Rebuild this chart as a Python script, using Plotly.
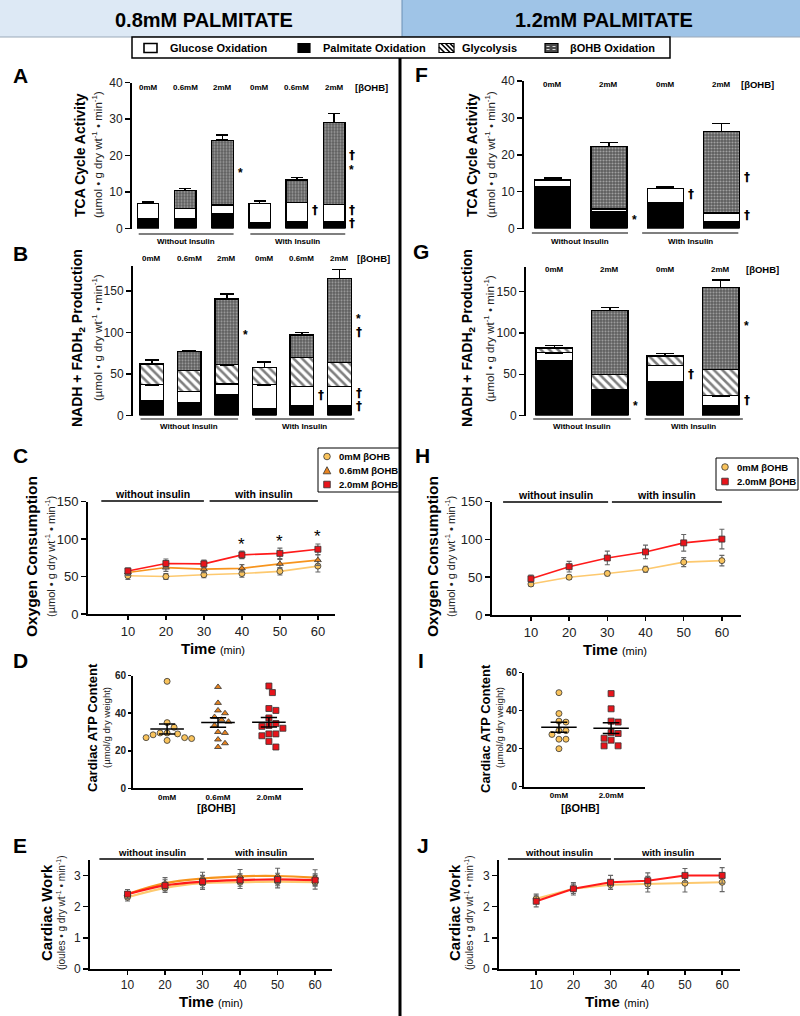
import numpy as np
import plotly.graph_objects as go

W, H = 800, 1016
FONT = "Arial, 'Liberation Sans', Helvetica, sans-serif"


def px(x):
    return x / W


def py(y):
    return 1 - y / H


# ---------------------------------------------------------------- data
conc_08 = ["0mM", "0.6mM", "2mM", "0mM", "0.6mM", "2mM"]
conc_12 = ["0mM", "2mM", "0mM", "2mM"]
insulin_groups = ["Without Insulin", "With Insulin"]
component_names = ["Glucose Oxidation", "Palmitate Oxidation", "Glycolysis", "\u03b2OHB Oxidation"]

# Panel A  TCA cycle activity, 0.8 mM palmitate
A_palm = [2.8, 2.6, 4.2, 1.5, 1.8, 1.8]
A_palm_err = [0.7, 0.8, 0.9, 0.3, 0.8, 0.8]
A_gluc = [4.0, 2.9, 2.2, 5.4, 5.4, 4.8]
A_gluc_err = [0.5, 0.5, 0.6, 0.6, 0.4, 0.4]
A_bohb = [None, 4.9, 17.8, None, 6.1, 22.4]
A_bohb_err = [None, 0.5, 1.4, None, 0.7, 2.5]

# Panel B  NADH + FADH2 production, 0.8 mM palmitate
B_palm = [17.5, 15.0, 25.0, 8.5, 11.5, 11.5]
B_palm_err = [3.3, 3.8, 5.8, 2.2, 2.1, 2.1]
B_gluc = [19.5, 14.0, 13.0, 28.5, 23.5, 23.5]
B_gluc_err = [1.5, 1.5, 2.0, 1.5, 1.5, 1.5]
B_glyc = [25.0, 25.0, 23.0, 21.0, 35.0, 29.0]
B_glyc_err = [5.0, 1.5, 4.0, 6.5, 2.0, 2.0]
B_bohb = [None, 23.0, 79.0, None, 27.0, 101.0]
B_bohb_err = [None, 1.5, 6.0, None, 3.0, 10.5]

# Panel F  TCA cycle activity, 1.2 mM palmitate
F_palm = [11.4, 4.6, 7.0, 2.0]
F_palm_err = [0.5, 1.0, 1.2, 0.6]
F_gluc = [1.8, 0.7, 3.9, 2.2]
F_gluc_err = [0.5, 0.3, 0.4, 0.4]
F_bohb = [None, 17.0, None, 22.1]
F_bohb_err = [None, 1.1, None, 2.2]

# Panel G  NADH + FADH2 production, 1.2 mM palmitate
G_palm = [67.0, 29.0, 41.0, 11.6]
G_palm_err = [8.0, 2.0, 6.0, 4.0]
G_gluc = [9.0, 2.0, 20.0, 12.4]
G_gluc_err = [2.0, 1.0, 1.5, 2.0]
G_glyc = [6.0, 19.0, 11.0, 32.0]
G_glyc_err = [3.0, 3.0, 3.0, 11.0]
G_bohb = [None, 77.0, None, 99.0]
G_bohb_err = [None, 4.0, None, 9.0]

# Oxygen consumption (C: 0.8 mM, H: 1.2 mM)
time_min = [10, 20, 30, 40, 50, 60]
C_0 = [51, 50, 52.5, 54, 57, 64]
C_0_err = [5, 4, 4, 5, 5, 8]
C_06 = [55.5, 62, 60, 61, 67, 72]
C_06_err = [4, 5, 5, 5, 6, 7]
C_2 = [57.5, 67.5, 67, 79, 81, 86.5]
C_2_err = [4, 6, 5, 5, 7, 7]
H_0 = [41, 50, 55, 60.5, 70, 72]
H_0_err = [3, 3, 3, 4, 6, 7]
H_2 = [48, 64, 75.5, 83.5, 95.5, 100.5]
H_2_err = [5, 7, 9, 9, 11, 13]

# Cardiac ATP content (D: 0.8 mM, I: 1.2 mM)
atp_groups_08 = ["0mM", "0.6mM", "2.0mM"]
atp_groups_12 = ["0mM", "2.0mM"]
D_0 = [57, 35, 32.5, 29.5, 29.5, 29, 28.5, 27, 27, 26.5, 25.5]
D_06 = [54, 45.5, 41.5, 40, 38, 36.5, 35.5, 33.5, 30, 29.5, 26, 24, 22]
D_2 = [54.5, 51, 42.5, 41.5, 37.5, 34.5, 33.5, 33, 32, 29, 29, 28, 25, 22]
I_0 = [49.5, 38.5, 34.5, 34, 29.5, 29.5, 27.5, 25, 25, 20]
I_2 = [49, 41, 34.5, 34, 28.5, 28, 25.5, 24.5, 21.5, 21.5]

# Cardiac work (E: 0.8 mM, J: 1.2 mM)
E_0 = [2.30, 2.60, 2.75, 2.78, 2.80, 2.78]
E_0_err = [0.12, 0.15, 0.20, 0.20, 0.20, 0.22]
E_06 = [2.40, 2.75, 2.90, 2.97, 2.98, 2.93]
E_06_err = [0.15, 0.18, 0.20, 0.22, 0.25, 0.25]
E_2 = [2.40, 2.68, 2.80, 2.85, 2.87, 2.85]
E_2_err = [0.15, 0.18, 0.20, 0.20, 0.20, 0.20]
J_0 = [2.25, 2.57, 2.70, 2.72, 2.75, 2.78]
J_0_err = [0.15, 0.15, 0.15, 0.25, 0.28, 0.30]
J_2 = [2.17, 2.57, 2.78, 2.83, 3.00, 3.00]
J_2_err = [0.18, 0.20, 0.22, 0.25, 0.22, 0.25]

series_names = ["0mM \u03b2OHB", "0.6mM \u03b2OHB", "2.0mM \u03b2OHB"]

# ---------------------------------------------------------------- styles
YEL_FILL, YEL_LINE = "#f9c35c", "#fdc96f"
ORG_FILL, ORG_LINE = "#e8831f", "#f7941d"
RED_FILL, RED_LINE = "#e8141b", "#ff1a1a"
BOHB_BG = "#5c5c5c"

STY = {
    "palm": dict(name=component_names[1], color="black", pattern=None),
    "gluc": dict(name=component_names[0], color="white", pattern=None),
    "glyc": dict(name=component_names[2], color="white",
                 pattern=dict(shape="\\", fgcolor="black", bgcolor="white", size=6, solidity=0.42)),
    "bohb": dict(name=component_names[3], color=BOHB_BG,
                 pattern=dict(shape=".", fgcolor="#e4e4e4", bgcolor=BOHB_BG, size=3, solidity=0.4)),
}

# axis geometry in pixels: (x0, x1), (ytop, ybottom)
GEOM = {
    1: ((132, 362), (82.5, 228.5)),    # A
    2: ((133, 362), (265.8, 415.6)),   # B
    3: ((88, 335), (501.7, 614)),      # C
    4: ((133, 303), (675.7, 788.3)),   # D
    5: ((90, 332), (859.8, 969)),      # E
    6: ((524, 785), (81, 228.6)),      # F
    7: ((526, 785), (266.9, 415.6)),   # G
    8: ((492, 741), (501.7, 615)),     # H
    9: ((524, 645), (672.7, 786.7)),   # I
    10: ((499, 740), (859.8, 969)),    # J
}


def refs(i):
    return ("x", "y") if i == 1 else (f"x{i}", f"y{i}")


fig = go.Figure()


def add_stack(ax, comps, width, cap):
    xr, yr = refs(ax)
    for key, vals, errs in comps:
        st = STY[key]
        n = len(vals)
        marker = dict(color=st["color"], line=dict(color="black", width=1.3))
        if st["pattern"]:
            marker["pattern"] = st["pattern"]
        fig.add_trace(go.Bar(
            x=list(range(n)), y=vals, width=width, xaxis=xr, yaxis=yr,
            marker=marker, name=st["name"], showlegend=False,
            error_y=dict(type="data", array=errs, arrayminus=[0] * n, symmetric=False,
                         color="black", thickness=1.5, width=cap),
        ))


add_stack(1, [("palm", A_palm, A_palm_err), ("gluc", A_gluc, A_gluc_err),
              ("bohb", A_bohb, A_bohb_err)], 0.58, 6)
add_stack(2, [("palm", B_palm, B_palm_err), ("gluc", B_gluc, B_gluc_err),
              ("glyc", B_glyc, B_glyc_err), ("bohb", B_bohb, B_bohb_err)], 0.63, 7)
add_stack(6, [("palm", F_palm, F_palm_err), ("gluc", F_gluc, F_gluc_err),
              ("bohb", F_bohb, F_bohb_err)], 0.64, 9)
add_stack(7, [("palm", G_palm, G_palm_err), ("gluc", G_gluc, G_gluc_err),
              ("glyc", G_glyc, G_glyc_err), ("bohb", G_bohb, G_bohb_err)], 0.66, 9)


# ---- line panels
def add_line(ax, y, err, fill, line, symbol, lw=1.6, shape="linear", msize=6):
    xr, yr = refs(ax)
    fig.add_trace(go.Scatter(
        x=time_min, y=y, xaxis=xr, yaxis=yr, mode="lines+markers", showlegend=False,
        line=dict(color=line, width=lw, shape=shape),
        marker=dict(color=fill, symbol=symbol, size=msize, line=dict(color="#333", width=0.8)),
        error_y=dict(type="data", array=err, color="#666", thickness=1.1, width=2.5),
    ))


add_line(3, C_0, C_0_err, YEL_FILL, YEL_LINE, "circle")
add_line(3, C_06, C_06_err, ORG_FILL, ORG_LINE, "triangle-up")
add_line(3, C_2, C_2_err, RED_FILL, RED_LINE, "square")
add_line(8, H_0, H_0_err, YEL_FILL, YEL_LINE, "circle")
add_line(8, H_2, H_2_err, RED_FILL, RED_LINE, "square")
add_line(5, E_0, E_0_err, YEL_FILL, YEL_LINE, "circle", 2.2, "spline")
add_line(5, E_06, E_06_err, ORG_FILL, ORG_LINE, "triangle-up", 2.2, "spline")
add_line(5, E_2, E_2_err, RED_FILL, RED_LINE, "square", 2.2, "spline")
add_line(10, J_0, J_0_err, YEL_FILL, YEL_LINE, "circle", 2.0)
add_line(10, J_2, J_2_err, RED_FILL, RED_LINE, "square", 2.0)


# ---- scatter (dot) panels
def swarm(values, ax, yrng, xrng, step=7.0):
    (x0, x1), (yt, yb) = GEOM[ax]
    xppu = (x1 - x0) / (xrng[1] - xrng[0])
    yppu = (yb - yt) / (yrng[1] - yrng[0])
    placed, offs = [], [0.0] * len(values)
    for i in np.argsort(values)[::-1]:
        ypx = values[i] * yppu
        cands = [0.0]
        for m in range(1, 8):
            cands += [m * step / 2, -m * step / 2]
        for c in cands:
            if all((c - ox) ** 2 + (ypx - oy) ** 2 >= step ** 2 for ox, oy in placed):
                placed.append((c, ypx))
                offs[i] = c / xppu
                break
    return offs


def add_dots(ax, data, fills, symbols, xrng, mean_hw, cap_hw):
    xr, yr = refs(ax)
    for gi, (vals, fillc, sym) in enumerate(zip(data, fills, symbols)):
        offs = swarm(vals, ax, (0, 60), xrng)
        fig.add_trace(go.Scatter(
            x=[gi + o for o in offs], y=vals, mode="markers", xaxis=xr, yaxis=yr, showlegend=False,
            marker=dict(color=fillc, symbol=sym, size=6, line=dict(color="#333", width=0.8))))
    for gi, vals in enumerate(data):
        m = float(np.mean(vals))
        s = float(np.std(vals, ddof=1) / np.sqrt(len(vals)))
        fig.add_trace(go.Scatter(
            x=[gi - mean_hw, gi + mean_hw, None, gi, gi, None, gi - cap_hw, gi + cap_hw, None, gi - cap_hw, gi + cap_hw],
            y=[m, m, None, m - s, m + s, None, m + s, m + s, None, m - s, m - s],
            mode="lines", xaxis=xr, yaxis=yr, showlegend=False, line=dict(color="black", width=1.5)))


add_dots(4, [D_0, D_06, D_2], [YEL_FILL, ORG_FILL, RED_FILL],
         ["circle", "triangle-up", "square"], (-0.67, 2.67), 0.33, 0.16)
add_dots(9, [I_0, I_2], [YEL_FILL, RED_FILL], ["circle", "square"], (-0.67, 1.65), 0.34, 0.16)

# ---------------------------------------------------------------- axes
layout = dict(width=W, height=H, margin=dict(l=0, r=0, t=0, b=0, autoexpand=False),
              paper_bgcolor="white", plot_bgcolor="white", barmode="stack", showlegend=False,
              font=dict(family=FONT, color="black"), bargap=0)


def set_axes(i, xr, yr, yticks, ytick_size, xkw=None, ybold=False, ticklen=5):
    (x0, x1), (yt, yb) = GEOM[i]
    xa = dict(domain=[px(x0), px(x1)], range=xr, anchor="y" if i == 1 else f"y{i}",
              showgrid=False, zeroline=False, fixedrange=True, automargin=False)
    if xkw:
        xa.update(xkw)
    else:
        xa.update(visible=False)
    ya = dict(domain=[py(yb), py(yt)], range=yr, anchor="x" if i == 1 else f"x{i}",
              tickvals=yticks, showline=True, linecolor="black", linewidth=2, ticks="outside",
              ticklen=ticklen, tickwidth=1.5, tickcolor="black", showgrid=False, zeroline=False,
              fixedrange=True, automargin=False,
              tickfont=dict(family=FONT, size=ytick_size, color="#222", weight="bold" if ybold else "normal"))
    layout["xaxis" if i == 1 else f"xaxis{i}"] = xa
    layout["yaxis" if i == 1 else f"yaxis{i}"] = ya


line_x = dict(visible=True, showline=True, linecolor="black", linewidth=2, ticks="outside", ticklen=4,
              tickwidth=1.5, tickcolor="black", tickvals=time_min,
              tickfont=dict(family=FONT, size=13, color="#222"))
line_x_small = dict(line_x, tickfont=dict(family=FONT, size=12, color="#222"))

set_axes(1, [-0.43, 5.75], [0, 40], [0, 10, 20, 30, 40], 12)
set_axes(2, [-0.5, 5.6], [0, 180], [0, 50, 100, 150], 12)
set_axes(6, [-0.51, 4.13], [0, 40], [0, 10, 20, 30, 40], 12)
set_axes(7, [-0.51, 4.16], [0, 180], [0, 50, 100, 150], 12)
set_axes(3, [-0.5, 64.5], [0, 150], [0, 50, 100, 150], 13, line_x)
set_axes(8, [-0.2, 65], [0, 150], [0, 50, 100, 150], 13, line_x)
set_axes(5, [0, 64.5], [0, 3.5], [0, 1, 2, 3], 12, line_x_small)
set_axes(10, [0, 64.8], [0, 3.5], [0, 1, 2, 3], 12, line_x_small)


def cat_x(labels):
    return dict(visible=True, showline=True, linecolor="black", linewidth=2, ticks="",
                tickvals=list(range(len(labels))), ticktext=labels,
                tickfont=dict(family=FONT, size=8, color="black", weight="bold"))


set_axes(4, [-0.67, 2.67], [0, 60], [0, 20, 40, 60], 10, cat_x(atp_groups_08), ybold=True, ticklen=3)
set_axes(9, [-0.67, 1.65], [0, 60], [0, 20, 40, 60], 10, cat_x(atp_groups_12), ybold=True, ticklen=3)

# ---------------------------------------------------------------- decorations
shapes = []
annots = []


def T(text, x, y, size, bold=False, angle=0, xanchor="center", yanchor="middle", xref="paper", yref="paper",
      color="black", family=FONT):
    annots.append(dict(text=text, x=x if xref != "paper" else px(x), y=y if yref != "paper" else py(y),
                       xref=xref, yref=yref, showarrow=False, textangle=angle, xanchor=xanchor,
                       yanchor=yanchor, font=dict(family=family, size=size, color=color,
                                                  weight="bold" if bold else "normal")))


def line_px(x0, y0, x1, y1, width=1.2, color="black", dash="solid"):
    shapes.append(dict(type="line", xref="paper", yref="paper", x0=px(x0), x1=px(x1), y0=py(y0), y1=py(y1),
                       line=dict(color=color, width=width, dash=dash)))


def rect_px(x0, y0, x1, y1, fill, line_color="black", lw=1.0, layer="above"):
    shapes.append(dict(type="rect", xref="paper", yref="paper", x0=px(x0), x1=px(x1), y0=py(y1), y1=py(y0),
                       fillcolor=fill, line=dict(color=line_color, width=lw), layer=layer))


# header
rect_px(0, 0, 402, 37, "#dde9f5", "#dde9f5", 0, "below")
rect_px(402, 0, 800, 37, "#9fc4e7", "#9fc4e7", 0, "below")
line_px(402, 0, 402, 37, 1, "#6a8fb5")
line_px(0, 37, 800, 37, 1, "#9aa9b8")
T("0.8mM PALMITATE", 204, 20, 20, True)
T("1.2mM PALMITATE", 604, 20, 20, True)
# vertical divider
line_px(400, 37, 400, 1016, 3, "black")

# top legend (drawn manually)
rect_px(132, 37, 670, 58, "white", "black", 1.5)
rect_px(144, 43.5, 157, 52.5, "white", "black", 1.6)
rect_px(298, 43.5, 310, 52.5, "black", "black", 1.2)
rect_px(439, 43.5, 454, 52.5, "white", "black", 1.2)
for a, b, c, d in [(439, 47, 444.5, 52.5), (441, 43.5, 450, 52.5), (445.5, 43.5, 454, 52), (450, 43.5, 454, 47.5)]:
    line_px(a, b, c, d, 1.6, "black")
rect_px(545, 43.5, 558, 52.5, "#4a4a4a", "black", 1.2)
line_px(546.5, 46.5, 556.5, 46.5, 1, "#dddddd", "dot")
line_px(546.5, 49.5, 556.5, 49.5, 1, "#dddddd", "dot")
for nm, xl in zip(component_names, [168, 321, 460, 568]):
    T(nm, xl, 48, 11, True, xanchor="left")


# manual legends for the oxygen-consumption panels
def marker_shape(kind, cx, cy, fill, r=3.3):
    if kind == "circle":
        shapes.append(dict(type="circle", xref="paper", yref="paper", x0=px(cx - r), x1=px(cx + r),
                           y0=py(cy + r), y1=py(cy - r), fillcolor=fill, line=dict(color="#333", width=0.8)))
    elif kind == "square":
        rect_px(cx - r, cy - r, cx + r, cy + r, fill, "#333", 0.8)
    else:
        path = "M{},{} L{},{} L{},{} Z".format(px(cx - r - 0.5), py(cy + r), px(cx + r + 0.5), py(cy + r),
                                              px(cx), py(cy - r - 0.5))
        shapes.append(dict(type="path", xref="paper", yref="paper", path=path, fillcolor=fill,
                           line=dict(color="#333", width=0.8)))


def manual_legend(box, rows, mx, tx, names, kinds, fills):
    rect_px(*box, "white", "black", 1)
    for yy, nm, kd, fc in zip(rows, names, kinds, fills):
        marker_shape(kd, mx, yy, fc)
        T(nm, tx, yy, 9.5, True, xanchor="left")


manual_legend((318, 448, 399, 492), [456.5, 470.5, 484.5], 327, 337, series_names,
              ["circle", "triangle", "square"], [YEL_FILL, ORG_FILL, RED_FILL])
manual_legend((716, 458, 798, 490), [467, 481.5], 725, 735, [series_names[0], series_names[2]],
              ["circle", "square"], [YEL_FILL, RED_FILL])

# panel letters
for L, x, y in [("A", 20, 76), ("B", 20, 253), ("C", 20, 455), ("D", 20, 660), ("E", 20, 845),
                ("F", 421, 75), ("G", 421, 251), ("H", 422, 455), ("I", 421, 660), ("J", 423, 845)]:
    T(L, x, y, 21, True)

SUB = "(\u00b5mol \u2022 g dry wt<sup>-1</sup> \u2022 min<sup>-1</sup>)"
SUBW = "(joules \u2022 g dry wt<sup>-1</sup> \u2022 min<sup>-1</sup>)"
# y titles
for ttl, sub, xt, xs, yc, st, ss in [
    ("TCA Cycle Activity", SUB, 80, 97, 155, 14, 11.5),
    ("NADH + FADH<sub>2</sub> Production", SUB, 78, 97, 338, 14, 11.5),
    ("Oxygen Consumption", SUB, 31, 50, 557, 15.5, 11),
    ("Cardiac ATP Content", "(\u00b5mol/g dry weight)", 92, 106, 728, 13, 9.5),
    ("Cardiac Work", SUBW, 46, 61, 913, 15, 10),
    ("TCA Cycle Activity", SUB, 472, 490, 155, 14, 11.5),
    ("NADH + FADH<sub>2</sub> Production", SUB, 468, 489, 338, 14, 11.5),
    ("Oxygen Consumption", SUB, 432, 450, 557, 15.5, 11),
    ("Cardiac ATP Content", "(\u00b5mol/g dry weight)", 485, 499, 728, 13, 9.5),
    ("Cardiac Work", SUBW, 454, 469, 913, 15, 10),
]:
    T(ttl, xt, yc, st, True, angle=-90)
    T(sub, xs, yc, ss, False, angle=-90, color="#222")

# Time labels
TIME = "<b>Time</b> <span style='font-size:11px'>(min)</span>"
for x, y in [(213, 648), (211, 1001), (615, 649), (617, 1001)]:
    T(TIME, x, y, 15)

# [bOHB] headers over bar panels
for ax, labels, yhdr, xlab in [(1, conc_08, 88, 371), (2, conc_08, 258, 373), (6, conc_12, 85, 757),
                               (7, conc_12, 269, 762)]:
    xr, _ = refs(ax)
    for i, lab in enumerate(labels):
        T(lab, i, yhdr, 8, True, xref=xr)
    T("[\u03b2OHB]", xlab, yhdr, 9.5, True)

# insulin group lines under bar panels
for ax, spans, yl, yt in [(1, [(-0.25, 2.3), (2.75, 5.3)], 234, 241),
                          (2, [(-0.3, 2.3), (2.75, 5.4)], 419, 427),
                          (6, [(-0.37, 1.34), (1.59, 3.3)], 233, 241),
                          (7, [(-0.38, 1.38), (1.63, 3.4)], 419, 427)]:
    xr, _ = refs(ax)
    for (a, b), lab in zip(spans, insulin_groups):
        shapes.append(dict(type="line", xref=xr, yref="paper", x0=a, x1=b, y0=py(yl), y1=py(yl),
                           line=dict(color="black", width=1.2)))
        T(lab, (a + b) / 2, yt, 8, True, xref=xr)

# insulin lines above line panels
for ax, spans, yl, yt, fs in [(3, [(3, 30), (31.5, 60)], 501, 494, 10.5),
                              (8, [(2.7, 30.2), (31.2, 60)], 502, 495, 10.5),
                              (5, [(2.5, 30.3), (31.2, 59.7)], 859, 852, 9.5),
                              (10, [(2.4, 30.1), (30.9, 59.7)], 859, 852, 9.5)]:
    xr, _ = refs(ax)
    for (a, b), lab in zip(spans, ["without insulin", "with insulin"]):
        shapes.append(dict(type="line", xref=xr, yref="paper", x0=a, x1=b, y0=py(yl), y1=py(yl),
                           line=dict(color="black", width=1.5)))
        T(lab, (a + b) / 2, yt, fs, True, xref=xr)

# significance marks on bars (bar index, value)
for ax, marks, off in [
    (1, [(2, 15.1, "*"), (4, 5.1, "\u2020"), (5, 20.1, "\u2020"), (5, 16.0, "*"), (5, 5.1, "\u2020"),
         (5, 1.4, "\u2020")], 0.36),
    (2, [(2, 97, "*"), (4, 25, "\u2020"), (5, 116, "*"), (5, 101, "\u2020"), (5, 27, "\u2020"),
         (5, 11.5, "\u2020")], 0.38),
    (6, [(1, 2.3, "*"), (2, 9.3, "\u2020"), (3, 14, "\u2020"), (3, 3.7, "\u2020")], 0.37),
    (7, [(1, 12, "*"), (2, 50, "\u2020"), (3, 108, "*"), (3, 19, "\u2020")], 0.38),
]:
    xr, yr = refs(ax)
    for i, v, s in marks:
        if s == "*":
            T(s, i + off, v, 12, True, xanchor="left", xref=xr, yref=yr)
        else:
            T(s, i + off, v, 12, True, xanchor="left", xref=xr, yref=yr, family="DejaVu Sans")

# asterisks on oxygen consumption panel C
for t, v in zip([40, 50, 60], [93, 97, 103]):
    T("*", t, v, 17, False, xref="x3", yref="y3")

# [bOHB] under dot plots
T("[\u03b2OHB]", 216, 808, 11, True)
T("[\u03b2OHB]", 580, 808, 11, True)

layout["shapes"] = shapes
layout["annotations"] = annots
fig.update_layout(**layout)
fig.write_html("out.html", config={"displayModeBar": False, "staticPlot": True},
               post_script="document.body.style.margin='0';document.body.style.padding='0';")
